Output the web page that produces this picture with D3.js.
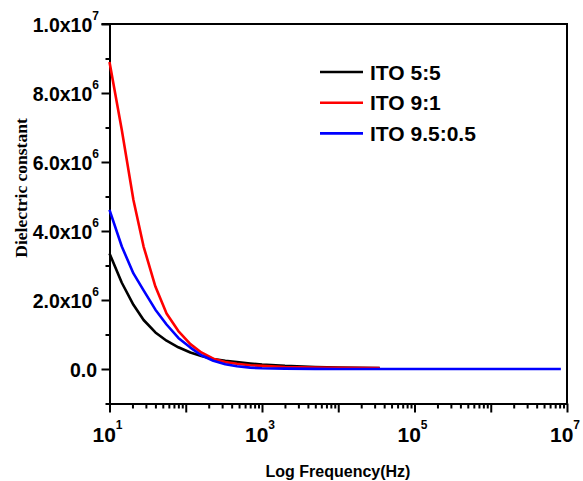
<!DOCTYPE html>
<meta charset="utf-8">
<title>dielectric constant vs frequency</title>
<style>
body {
  margin: 0px;
  background: #fff;
}
text {
  font-family: "Liberation Sans", Arial, sans-serif;
  font-weight: bold;
  fill: #000;
}
.axis path, .axis line {
  stroke: #000;
  stroke-width: 2px;
}
path.curve {
  fill: none;
  stroke-width: 2.6px;
  stroke-linejoin: round;
}
</style>
<script src="https://cdn.jsdelivr.net/npm/d3@7"></script>
<body>
<script>
var width = 583, height = 481;
var margin = {left: 109.5, top: 24, right: 16, bottom: 77.5};

// frequencies (Hz)
var freq = [10, 14.5, 20.6, 28, 40, 56, 80, 115, 160, 230, 330, 470, 700, 1000, 2000, 5000, 1e4, 3.5e4];
var freqBlue = freq.concat([1e5, 1e6, 8.3e6]);

// dielectric constant values
var ito55 = [3.35e6, 2.5e6, 1.86e6, 1.42e6, 1.06e6, 0.82e6, 0.63e6, 0.48e6, 0.38e6, 0.29e6,
             0.24e6, 0.2e6, 0.16e6, 0.13e6, 0.09e6, 0.06e6, 0.045e6, 0.03e6];
var ito91 = [8.9e6, 6.93e6, 4.9e6, 3.55e6, 2.39e6, 1.61e6, 1.1e6, 0.72e6, 0.48e6, 0.3e6,
             0.2e6, 0.15e6, 0.11e6, 0.09e6, 0.06e6, 0.045e6, 0.035e6, 0.025e6];
var ito955 = [4.61e6, 3.55e6, 2.77e6, 2.28e6, 1.72e6, 1.29e6, 0.9e6, 0.62e6, 0.4e6, 0.24e6,
              0.14e6, 0.08e6, 0.04e6, 0.02e6, 0.01e6, 0.005e6, 0, 0, 0, 0, 0];

var seriesNames = ["ITO 5:5", "ITO 9:1", "ITO 9.5:0.5"];
var seriesColors = ["#000000", "#ff0000", "#0000ff"];

var xMajor = [10, 100, 1e3, 1e4, 1e5, 1e6, 1e7];
var xLabelExp = [1, 3, 5, 7];
var yMajor = [0, 2e6, 4e6, 6e6, 8e6, 1e7];
var yMinor = [-1e6, 1e6, 3e6, 5e6, 7e6, 9e6];

var series = [
  {name: seriesNames[0], color: seriesColors[0], f: freq, v: ito55},
  {name: seriesNames[1], color: seriesColors[1], f: freq, v: ito91},
  {name: seriesNames[2], color: seriesColors[2], f: freqBlue, v: ito955}
];

var svg = d3.select("body").append("svg")
    .attr("width", width)
    .attr("height", height);

var x = d3.scaleLog()
    .domain([10, 1e7])
    .range([margin.left, width - margin.right]);
var y = d3.scaleLinear()
    .domain([-1e6, 1e7])
    .range([height - margin.bottom, margin.top]);

// minor x ticks 2..9 per decade
var xMinor = [];
for (var d = 10; d < 1e7; d *= 10) {
  for (var k = 2; k <= 9; k++) xMinor.push(d * k);
}

var x0 = height - margin.bottom;

svg.append("g")
    .attr("class", "axis")
    .attr("transform", "translate(0," + x0 + ")")
    .call(d3.axisBottom(x).tickValues(xMinor).tickSize(5).tickFormat("").tickSizeOuter(0));
svg.append("g")
    .attr("class", "axis")
    .attr("transform", "translate(0," + x0 + ")")
    .call(d3.axisBottom(x).tickValues(xMajor).tickSize(9).tickFormat("").tickSizeOuter(0));

svg.append("g")
    .attr("class", "axis")
    .attr("transform", "translate(" + margin.left + ",0)")
    .call(d3.axisLeft(y).tickValues(yMinor).tickSize(4).tickFormat("").tickSizeOuter(0));
svg.append("g")
    .attr("class", "axis")
    .attr("transform", "translate(" + margin.left + ",0)")
    .call(d3.axisLeft(y).tickValues(yMajor).tickSize(8).tickFormat("").tickSizeOuter(0));

// top and right frame
svg.append("path")
    .attr("d", "M" + (margin.left - 8) + "," + margin.top + "H" + (width - margin.right) + "V" + x0)
    .attr("fill", "none")
    .attr("stroke", "#000")
    .attr("stroke-width", 2);

// x tick labels
xLabelExp.forEach(function(e) {
  var t = svg.append("text")
      .attr("x", x(Math.pow(10, e)) - 2)
      .attr("y", 442)
      .attr("text-anchor", "middle")
      .style("font-size", "21px");
  t.append("tspan").text("10");
  t.append("tspan").attr("dy", -13).style("font-size", "12px").text(e);
});

// y tick labels
yMajor.forEach(function(v) {
  var t = svg.append("text")
      .attr("x", 99)
      .attr("y", y(v) + 7.5)
      .attr("text-anchor", "end")
      .style("font-size", "19.5px");
  if (v === 0) {
    t.attr("x", 97).text("0.0");
  } else {
    var e = Math.floor(Math.log10(v));
    t.append("tspan").text((v / Math.pow(10, e)).toFixed(1) + "x10");
    t.append("tspan").attr("dy", -12).style("font-size", "12px").text(e);
  }
});

// axis titles
svg.append("text")
    .attr("x", 338)
    .attr("y", 477)
    .attr("text-anchor", "middle")
    .style("font-size", "16px")
    .text("Log Frequency(Hz)");

svg.append("text")
    .attr("transform", "translate(27,188) rotate(-90)")
    .attr("text-anchor", "middle")
    .style("font-family", "'Liberation Serif', 'Times New Roman', serif")
    .style("font-size", "17.5px")
    .text("Dielectric constant");

// curves
var line = d3.line()
    .x(function(d) { return x(d[0]); })
    .y(function(d) { return y(d[1]); });

svg.selectAll("path.curve")
    .data(series)
  .enter().append("path")
    .attr("class", "curve")
    .attr("stroke", function(d) { return d.color; })
    .attr("d", function(d) { return line(d.f.map(function(f, i) { return [f, d.v[i]]; })); });

// legend
var legend = svg.selectAll("g.legend")
    .data(series)
  .enter().append("g")
    .attr("class", "legend")
    .attr("transform", function(d, i) { return "translate(320," + (72 + i * 30.7) + ")"; });
legend.append("line")
    .attr("x1", 0).attr("x2", 43)
    .attr("stroke", function(d) { return d.color; })
    .attr("stroke-width", 2.6);
legend.append("text")
    .attr("x", 50)
    .attr("y", 7.5)
    .style("font-size", "21px")
    .text(function(d) { return d.name; });
</script>
